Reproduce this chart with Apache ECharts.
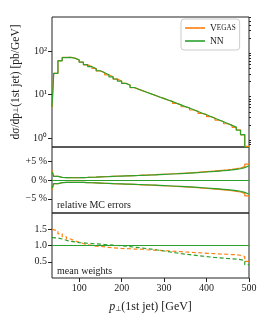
<!DOCTYPE html>
<html><head><meta charset="utf-8">
<script src="https://cdn.jsdelivr.net/npm/echarts@6/dist/echarts.min.js"></script>
<style>html,body{margin:0;padding:0;background:#fff}#c{width:270px;height:324px}</style>
</head><body><div id="c"></div>
<script>
// bin edges in GeV
const binEdges = [36,40,50,60,70,80,90,100,110,120,130,140,150,160,170,180,190,200,210,220,230,240,250,260,270,280,290,300,310,320,330,340,350,360,370,380,390,400,410,420,430,440,450,460,470,480,490,500];
// differential cross section [pb/GeV]
const vegasXsec = [5.0,31,61,72,72.5,69.5,63,56.5,48.5,44.5,40,35,32.3,28.6,25.9,22.7,20.6,18.1,16.6,14.5,13.4,12.2,11.3,10.3,9.6,8.7,8.2,7.4,7.0,6.25,5.85,5.25,4.95,4.42,4.1,3.68,3.47,3.1,2.88,2.57,2.4,2.13,1.98,1.76,1.55,1.18,0.64];
const nnXsec = [5.2,31,60,71,72,69,63,56,49,44,40,35.5,32,28.8,25.7,22.9,20.4,18.2,16.4,14.6,13.3,12.3,11.2,10.4,9.55,8.8,8.1,7.5,6.9,6.3,5.8,5.3,4.9,4.47,4.07,3.72,3.43,3.13,2.85,2.6,2.37,2.16,1.95,1.78,1.51,1.2,0.6];
// relative MC errors [%]
const vegasRelErr = [2.6,1.0,0.74,0.65,0.62,0.61,0.62,0.65,0.69,0.74,0.78,0.83,0.88,0.93,0.98,1.02,1.06,1.1,1.15,1.19,1.23,1.28,1.33,1.38,1.43,1.49,1.54,1.6,1.66,1.72,1.79,1.85,1.92,1.99,2.07,2.15,2.24,2.33,2.42,2.52,2.62,2.73,2.86,3.02,3.2,3.55,4.25];
const nnRelErr = [2.2,0.95,0.72,0.64,0.61,0.6,0.61,0.64,0.68,0.73,0.77,0.82,0.87,0.91,0.96,1.0,1.04,1.08,1.12,1.16,1.2,1.25,1.29,1.34,1.39,1.44,1.49,1.54,1.6,1.66,1.72,1.78,1.84,1.91,1.98,2.06,2.14,2.22,2.3,2.39,2.48,2.58,2.7,2.84,3.0,3.3,3.8];
// mean weights
const vegasMeanW = [1.5,1.45,1.36,1.27,1.2,1.14,1.1,1.06,1.03,1.0,0.98,0.97,0.96,0.94,0.93,0.92,0.91,0.905,0.9,0.89,0.89,0.885,0.87,0.86,0.855,0.85,0.84,0.835,0.825,0.82,0.81,0.8,0.795,0.785,0.78,0.77,0.76,0.755,0.75,0.74,0.735,0.73,0.72,0.715,0.7,0.66,0.51];
const nnMeanW = [1.24,1.23,1.2,1.16,1.13,1.11,1.09,1.08,1.07,1.06,1.05,1.04,1.03,1.02,1.01,1.0,0.99,0.98,0.965,0.95,0.935,0.92,0.905,0.89,0.87,0.85,0.83,0.81,0.79,0.77,0.75,0.735,0.72,0.705,0.69,0.675,0.66,0.645,0.63,0.62,0.61,0.6,0.59,0.58,0.565,0.54,0.41];
// tick labels
const xTicks = [100,200,300,400,500];
const xsecTicks = [1,10,100];
const xsecTickLabels = ['10⁰','10¹','10²'];
const xsecMinorTicks = [0.7,0.8,0.9,2,3,4,5,6,7,8,9,20,30,40,50,60,70,80,90,200,300,400,500,600];
const errTicks = [-5,0,5];
const errTickLabels = ['−5 %','0 %','+5 %'];
const wTicks = [0.5,1.0,1.5];

const ORANGE = '#ff7f0e', GREEN = '#2ca02c';
const FONT = 'Liberation Serif';

function hist(vals, sign) {
  const s = sign || 1;
  return binEdges.map((e, i) => [e, s * vals[Math.min(i, vals.length - 1)]]);
}

const chart = echarts.init(document.getElementById('c'), null, {renderer: 'canvas'});
const gridCommon = {left: 52, right: 21, show: true, borderColor: '#222', borderWidth: 1, backgroundColor: 'transparent'};
const xCommon = {type: 'value', min: 36, max: 500, splitLine: {show: false}, axisLine: {show: false}};
const tickLabelStyle = {fontFamily: FONT, fontSize: 10, color: '#222'};

function line(name, data, x, y, color, dashed, extra) {
  return Object.assign({
    name: name, type: 'line', step: 'end', data: data, xAxisIndex: x, yAxisIndex: y,
    showSymbol: false, symbol: 'none', clip: true, animation: false,
    lineStyle: {color: color, width: 1.2, type: dashed ? [4, 2.5] : 'solid'},
    itemStyle: {color: color}
  }, extra || {});
}

const option = {
  animation: false,
  grid: [
    Object.assign({top: 17, height: 130}, gridCommon),
    Object.assign({top: 147, height: 66}, gridCommon),
    Object.assign({top: 213, height: 65}, gridCommon)
  ],
  xAxis: [
    Object.assign({gridIndex: 0, axisLabel: {show: false}, axisTick: {show: false}}, xCommon),
    Object.assign({gridIndex: 1, axisLabel: {show: false}, axisTick: {show: false}}, xCommon),
    Object.assign({gridIndex: 2,
      axisLabel: Object.assign({customValues: xTicks, margin: 5}, tickLabelStyle),
      axisTick: {customValues: xTicks, length: 4, inside: false, lineStyle: {color: '#222'}},
      name: '{i|p}{s|⊥}(1st jet) [GeV]', nameLocation: 'middle', nameGap: 22,
      nameTextStyle: {fontFamily: FONT, fontSize: 12, color: '#222',
        rich: {i: {fontFamily: FONT, fontStyle: 'italic', fontSize: 12, color: '#222'},
               s: {fontFamily: 'DejaVu Sans', fontSize: 7, color: '#222', verticalAlign: 'bottom', padding: [6, 0, 0, 0]}}}
    }, xCommon)
  ],
  yAxis: [
    {type: 'log', logBase: 10, gridIndex: 0, min: 0.62, max: 615,
     splitLine: {show: false}, axisLine: {show: false},
     axisLabel: Object.assign({customValues: xsecTicks, margin: 5,
        formatter: v => xsecTickLabels[xsecTicks.indexOf(Math.round(v))] || ''}, tickLabelStyle),
     axisTick: {customValues: xsecTicks, length: 4, lineStyle: {color: '#222'}},
     name: 'dσ/dp{s|⊥}(1st jet) [pb/GeV]', nameLocation: 'middle', nameGap: 30,
     nameTextStyle: {fontFamily: FONT, fontSize: 11.5, color: '#222',
       rich: {s: {fontFamily: 'DejaVu Sans', fontSize: 7, color: '#222'}}}},
    {type: 'log', logBase: 10, gridIndex: 0, min: 0.62, max: 615,
     splitLine: {show: false}, axisLine: {show: false},
     axisLabel: {show: false},
     axisTick: {customValues: xsecMinorTicks, length: 2, lineStyle: {color: '#222'}}},
    {type: 'value', gridIndex: 1, min: -8.8, max: 8.8,
     splitLine: {show: false}, axisLine: {show: false},
     axisLabel: Object.assign({customValues: errTicks, margin: 5,
        formatter: v => errTickLabels[errTicks.indexOf(Math.round(v))] || ''}, tickLabelStyle),
     axisTick: {customValues: errTicks, length: 4, lineStyle: {color: '#222'}}},
    {type: 'value', gridIndex: 2, min: 0, max: 2,
     splitLine: {show: false}, axisLine: {show: false},
     axisLabel: Object.assign({customValues: wTicks, margin: 5, formatter: v => v.toFixed(1)}, tickLabelStyle),
     axisTick: {customValues: wTicks, length: 4, lineStyle: {color: '#222'}}}
  ],
  legend: {
    orient: 'vertical', left: 181, top: 19,
    data: [{name: 'Vegas', icon: 'rect'}, {name: 'NN', icon: 'rect'}],
    itemWidth: 20, itemHeight: 1.6, itemGap: 3,
    padding: [4, 4, 4, 4],
    backgroundColor: '#fff', borderColor: '#ccc', borderWidth: 1, borderRadius: 3,
    formatter: n => n === 'Vegas' ? '{a|V}{b|EGAS}' : '{a|NN}',
    textStyle: {fontFamily: FONT, fontSize: 9.5, color: '#222',
      rich: {a: {fontFamily: FONT, fontSize: 9.5, color: '#222'}, b: {fontFamily: FONT, fontSize: 7.2, color: '#222'}}}
  },
  graphic: [
    {type: 'text', left: 57, top: 200, style: {text: 'relative MC errors', font: '10px "Liberation Serif"', fill: '#222'}},
    {type: 'text', left: 57, top: 266, style: {text: 'mean weights', font: '10px "Liberation Serif"', fill: '#222'}}
  ],
  series: [
    line('Vegas', hist(vegasXsec), 0, 0, ORANGE, false),
    line('NN', hist(nnXsec), 0, 0, GREEN, false),
    line('Vegas err+', hist(vegasRelErr), 1, 2, ORANGE, false),
    line('Vegas err-', hist(vegasRelErr, -1), 1, 2, ORANGE, false),
    line('NN err+', hist(nnRelErr), 1, 2, GREEN, false),
    line('NN err-', hist(nnRelErr, -1), 1, 2, GREEN, false, {
      markLine: {silent: true, symbol: 'none', label: {show: false}, animation: false,
        lineStyle: {color: GREEN, type: 'solid', width: 1.2}, data: [{yAxis: 0}]}
    }),
    line('Vegas w', hist(vegasMeanW), 2, 3, ORANGE, true),
    line('NN w', hist(nnMeanW), 2, 3, GREEN, true, {
      markLine: {silent: true, symbol: 'none', label: {show: false}, animation: false,
        lineStyle: {color: GREEN, type: 'solid', width: 1.2}, data: [{yAxis: 1}]}
    })
  ]
};
chart.setOption(option);
</script></body></html>
